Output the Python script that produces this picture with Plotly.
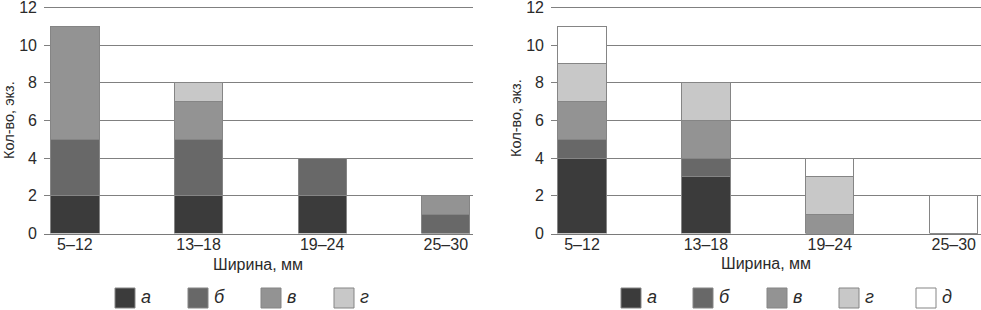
import plotly.graph_objects as go

categories = ["5–12", "13–18", "19–24", "25–30"]
labels_left = ["а", "б", "в", "г"]
labels_right = ["а", "б", "в", "г", "д"]
colors = ["#3b3b3b", "#686868", "#939393", "#c8c8c8", "#ffffff"]

left_a = [2, 2, 2, 0]
left_b = [3, 3, 2, 1]
left_v = [6, 2, 0, 1]
left_g = [0, 1, 0, 0]

right_a = [4, 3, 0, 0]
right_b = [1, 1, 0, 0]
right_v = [2, 2, 1, 0]
right_g = [2, 2, 2, 0]
right_d = [2, 0, 1, 2]

y_ticks = [0, 2, 4, 6, 8, 10, 12]

FONT = "Liberation Sans, Arial, sans-serif"
W, H = 981, 310

fig = go.Figure()

left_series = [left_a, left_b, left_v, left_g]
right_series = [right_a, right_b, right_v, right_g, right_d]

for i, vals in enumerate(left_series):
    fig.add_trace(go.Bar(x=categories, y=vals, name=labels_left[i], xaxis="x", yaxis="y",
                         marker=dict(color=colors[i], line=dict(color="#858585", width=1)),
                         width=0.39, showlegend=False))
for i, vals in enumerate(right_series):
    fig.add_trace(go.Bar(x=categories, y=vals, name=labels_right[i], xaxis="x2", yaxis="y2",
                         marker=dict(color=colors[i], line=dict(color="#858585", width=1)),
                         width=0.39, showlegend=False))

def px(x):
    return x / W

def py(y):
    return 1 - y / H

YMAX = 12.1
y0pix, y12pix = 233.5, 7.5
ytop = y0pix - (y0pix - y12pix) * YMAX / 12
ydom = [py(y0pix), py(ytop)]

xaxis_common = dict(type="category", range=[-0.25, 3.22], showgrid=False, showline=True,
                    linecolor="#7a7a7a", linewidth=1, ticks="", automargin=False,
                    ticklabeloverflow="allow", ticklabelstandoff=-4,
                    tickfont=dict(family=FONT, size=16, color="#2a2a2a"), fixedrange=True)
yaxis_common = dict(range=[0, YMAX], tickvals=y_ticks, showgrid=True, gridcolor="#808080",
                    gridwidth=1, zeroline=False, showline=False, ticks="", automargin=False,
                    ticklabeloverflow="allow", ticklabelstandoff=6,
                    tickfont=dict(family=FONT, size=16, color="#2a2a2a"), fixedrange=True)

fig.update_layout(
    width=W, height=H,
    margin=dict(l=0, r=0, t=0, b=0),
    paper_bgcolor="white", plot_bgcolor="white",
    barmode="stack",
    xaxis=dict(domain=[px(44), px(473)], anchor="y", **xaxis_common),
    yaxis=dict(domain=ydom, anchor="x", **yaxis_common),
    xaxis2=dict(domain=[px(551), 1.0], anchor="y2", **xaxis_common),
    yaxis2=dict(domain=ydom, anchor="x2", **yaxis_common),
)

annotations = []
shapes = []

for xc, yc in [(258, 264), (766, 263)]:
    annotations.append(dict(text="Ширина, мм", x=px(xc), y=py(yc), xref="paper", yref="paper",
                            showarrow=False, xanchor="center", yanchor="middle",
                            font=dict(family=FONT, size=16, color="#2a2a2a")))
for xc, yc in [(9, 120), (516, 118)]:
    annotations.append(dict(text="Кол-во, экз.", x=px(xc), y=py(yc), xref="paper", yref="paper",
                            showarrow=False, xanchor="center", yanchor="middle", textangle=-90,
                            font=dict(family=FONT, size=14.5, color="#2a2a2a")))

def add_legend(starts, labels):
    for sx, lab, col in zip(starts, labels, colors):
        shapes.append(dict(type="rect", xref="paper", yref="paper",
                           x0=px(sx), x1=px(sx + 20), y0=py(308), y1=py(288),
                           fillcolor=col, line=dict(color="#858585", width=1)))
        annotations.append(dict(text="<i>" + lab + "</i>", x=px(sx + 24), y=py(297),
                                xref="paper", yref="paper",
                                showarrow=False, xanchor="left", yanchor="middle",
                                font=dict(family=FONT, size=18, color="#2a2a2a")))

add_legend([115, 188, 261, 334], labels_left)
add_legend([621, 693, 767, 839, 916], labels_right)

fig.update_layout(annotations=annotations, shapes=shapes)

fig.write_html("out.html", config={"displayModeBar": False},
               post_script="document.body.style.margin='0';document.body.style.overflow='hidden';")
